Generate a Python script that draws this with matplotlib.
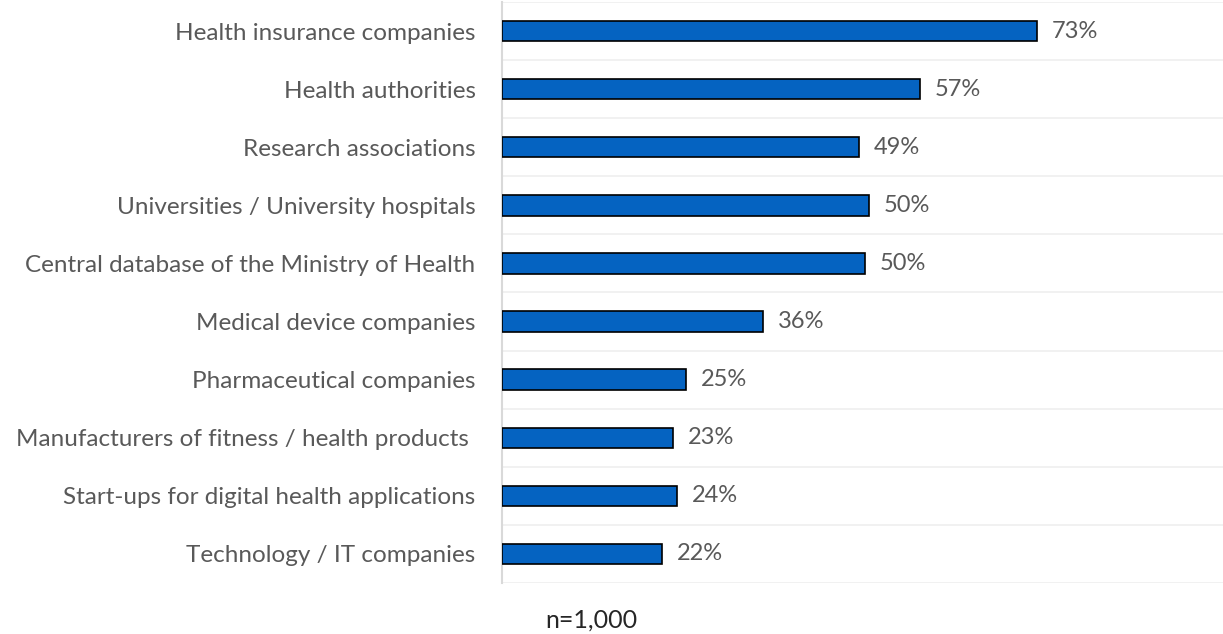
import matplotlib.pyplot as plt
import numpy as np

categories = [
  'Health insurance companies',
  'Health authorities',
  'Research associations',
  'Universities / University hospitals',
  'Central database of the Ministry of Health',
  'Medical device companies',
  'Pharmaceutical companies',
  'Manufacturers of fitness / health products ',
  'Start-ups for digital health applications',
  'Technology / IT companies',
]
values = [73.0, 57.0, 48.7, 50.1, 49.5, 35.6, 25.1, 23.3, 23.9, 21.8]
value_labels = ['73%', '57%', '49%', '50%', '50%', '36%', '25%', '23%', '24%', '22%']
note = 'n=1,000'

plt.rcParams['font.family'] = ['Lato', 'DejaVu Sans']
text_color = '#595959'

fig = plt.figure(figsize=(12.23, 6.34), dpi=100)
ax = fig.add_axes([502 / 1223, 1 - 583 / 634, 1 - 502 / 1223, 581 / 634])

y = np.arange(len(categories))
ax.barh(y, values, height=0.35, color='#0563C1', edgecolor='black', linewidth=1.2, zorder=3)

for yi, v, lab in zip(y, values, value_labels):
  ax.text(v + 2, yi, lab, va='center', ha='left', fontsize=17, color=text_color)

ax.set_xlim(0, 98.4)
ax.set_ylim(len(categories) - 0.5, -0.5)
ax.set_yticks(y)
ax.set_yticklabels(categories, fontsize=17.5, color=text_color)
ax.tick_params(axis='y', length=0, pad=19)
ax.set_xticks([])
ax.set_yticks(np.arange(-0.5, len(categories)), minor=True)
ax.tick_params(axis='y', which='minor', length=0)
ax.grid(axis='y', which='minor', color='#efefef', linewidth=1.2, zorder=0)

for side in ['top', 'right', 'bottom']:
  ax.spines[side].set_visible(False)
ax.spines['left'].set_color('#d9d9d9')
ax.spines['left'].set_linewidth(1.5)

fig.text(591 / 1223, 1 - 620 / 634, note, ha='center', va='center', fontsize=18, color='#262626')

fig.savefig('out.png', dpi=100)
